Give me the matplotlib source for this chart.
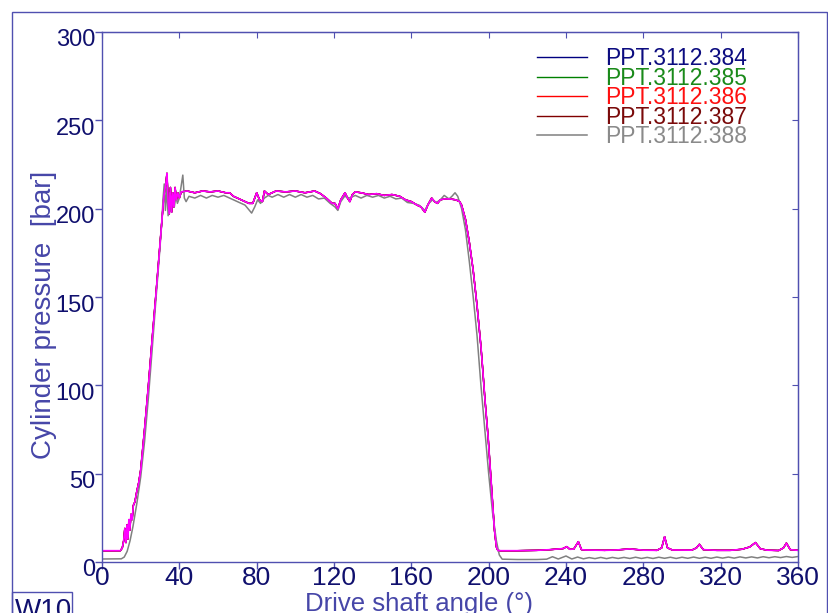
import matplotlib
matplotlib.use("Agg")
import matplotlib.pyplot as plt
import matplotlib.transforms as mtransforms
from matplotlib.patches import Rectangle

plt.rcParams['font.family'] = ['Liberation Sans', 'DejaVu Sans']

# series names and colours as in the legend
series_names = ["PPT.3112.384", "PPT.3112.385", "PPT.3112.386", "PPT.3112.387", "PPT.3112.388"]
series_colors = ["#000080", "#008000", "#ff0000", "#800000", "#808080"]
text_colors = ["#0c0c80", "#1a8a1a", "#ff1010", "#7a0a0a", "#8a8a8a"]

# curve of the first four runs (they lie on top of each other)
angle_a = [0, 9.5, 10.5, 11.2, 11.8, 12.4, 12.9, 13.4, 13.9, 14.4,
           15, 15.6, 16.2, 17, 18, 19, 20, 22, 24, 26,
           28, 30, 31, 32, 33, 33.6, 34.2, 34.8, 35.4, 36,
           36.6, 37.2, 37.8, 38.5, 39.2, 40, 41, 44, 48, 52,
           56, 60, 64, 66, 68, 70, 72, 74, 76, 78,
           80, 81.5, 83, 84, 86, 90, 95, 100, 105, 110,
           113, 116, 119, 120.5, 122, 123.5, 125.7, 127, 128.2, 129.5,
           131, 134, 138, 142, 146, 150, 154, 157, 160, 163,
           165, 167, 168.5, 170.5, 172, 173.5, 175, 177, 180, 183,
           185, 186, 188, 190, 192, 194, 196, 197, 198, 199.7,
           201, 202, 203, 204, 204.8, 206, 215, 225, 232, 236,
           238.5, 240.4, 242, 244, 246.4, 248, 250, 260, 266, 273,
           280, 287, 289.5, 291, 292.5, 295, 305, 307.5, 309, 311,
           318, 325, 331, 335, 338, 340.5, 344, 350, 352.5, 354,
           356, 360]
pressure_a = [6.4, 6.4, 8, 12, 19, 11, 21, 13, 24, 18,
              27, 24, 32, 34, 40, 45, 52, 75, 100, 127,
              153, 180, 194, 207, 214, 220, 204, 197, 212, 198,
              209, 201, 212, 205, 209, 206, 209.5, 210, 209, 210,
              209.5, 210, 209, 209, 207, 206, 205, 204, 203, 203,
              209, 205, 204, 210, 208, 210, 209.5, 210, 209, 210,
              208.5, 206, 203, 203, 200, 205, 209, 206, 204, 208,
              209.5, 209, 208, 208.5, 207.5, 208, 207, 205, 204, 202,
              201, 198, 202, 206, 204, 203, 205, 205.5, 205.5, 205,
              204, 202, 194, 181, 165, 145, 122, 108, 93, 71,
              50, 33, 18, 8.5, 6.5, 6.4, 6.4, 6.6, 7, 7.4,
              7.6, 8.7, 7.2, 7.3, 11.5, 7, 6.8, 6.6, 6.8, 7.4,
              6.7, 6.6, 8, 14.3, 8, 6.8, 6.7, 8, 10, 7,
              6.6, 6.6, 7.2, 8.5, 11, 7.5, 6.7, 6.5, 8, 10.7,
              7, 6.6]

# curve of run 388 (grey)
angle_b = [0, 10, 11.5, 13, 14.5, 16, 18, 20, 22, 24,
           26, 28, 30, 31, 31.6, 32.2, 32.8, 33.5, 34.2, 35,
           35.8, 36.6, 37.4, 38.2, 39, 40, 41, 41.8, 42.6, 43.5,
           45, 48, 51, 54, 57, 60, 63, 66, 68, 70,
           72, 74, 75.5, 77.4, 79, 80.5, 82, 84, 86, 88,
           91, 94, 97, 100, 103, 106, 109, 112, 115, 118,
           120.5, 122, 123.5, 125.5, 128, 131, 134, 137, 140, 143,
           146, 149, 152, 155, 158, 161, 164, 167, 169, 171,
           173, 175, 177, 179.5, 181, 182.6, 184, 186, 188, 190,
           192, 194, 196, 198, 200, 202, 204, 205.5, 207, 215,
           225, 230, 233, 236, 240, 243, 246, 249, 252, 255,
           258, 261, 264, 267, 270, 273, 276, 279, 282, 285,
           288, 291, 294, 297, 300, 303, 306, 309, 312, 315,
           318, 321, 324, 327, 330, 333, 336, 339, 342, 345,
           348, 351, 354, 357, 360]
pressure_b = [1.7, 1.8, 2.8, 6, 12, 20, 33, 48, 68, 93,
              121, 150, 178, 194, 206, 214, 199, 212, 196, 209,
              199, 208, 201, 207, 203, 206, 213, 219, 206, 204,
              207, 206, 207.5, 206, 207.5, 206.5, 207.5, 206, 205, 204,
              203, 202, 200, 197.5, 201, 205, 203, 206, 207.5, 206.5,
              208, 206.5, 208, 206.5, 208, 206.5, 207.5, 205.5, 206, 203,
              201, 199, 204, 207, 206, 207.5, 206, 207.5, 206.5, 207.5,
              206, 207, 205.5, 206, 203.5, 203, 202, 199, 203, 205,
              203.5, 205, 207.5, 205.5, 207, 209, 207, 200, 188, 170,
              150, 128, 100, 75, 50, 28, 12, 4, 1.6, 1.4,
              1.4, 1.6, 3.0, 1.7, 3.4, 1.7, 2.8, 1.8, 2.5, 1.9,
              2.6, 1.9, 2.6, 2.0, 2.6, 2.0, 2.7, 2.0, 2.6, 2.0,
              2.7, 2.1, 2.7, 2.0, 2.7, 2.1, 2.8, 2.1, 2.7, 2.1,
              2.8, 2.2, 2.8, 2.2, 2.9, 2.3, 2.9, 2.3, 3.0, 2.4,
              3.0, 2.5, 3.1, 2.6, 3.1]

x_ticks = [0, 40, 80, 120, 160, 200, 240, 280, 320, 360]
y_ticks = [0, 50, 100, 150, 200, 250, 300]

W, H = 829, 613
frame_col = "#5050b0"
tick_col = "#10106e"
label_col = "#4646a8"

fig = plt.figure(figsize=(W / 100, H / 100), dpi=100)
ax = fig.add_axes([102 / W, 1 - 562 / H, 696 / W, 530 / H])

# outer frame and the W10 tab
fig.add_artist(Rectangle((12 / W, -0.1), (827 - 12) / W, 1.1 - 12 / H,
                         transform=fig.transFigure, fill=False,
                         edgecolor=frame_col, lw=1.0))
fig.add_artist(Rectangle((12 / W, -0.1), 60 / W, 0.1 + 1 - 592 / H,
                         transform=fig.transFigure, fill=False,
                         edgecolor=frame_col, lw=1.0))
fig.text(15 / W, 1 - 598 / H, "W10", color=tick_col, fontsize=20,
         va="top", ha="left")

for name, col in zip(series_names[:4], series_colors[:4]):
    ax.plot(angle_a, pressure_a, color=col, lw=1.0, label=name)
ax.plot(angle_b, pressure_b, color=series_colors[4], lw=1.1, label=series_names[4])
# the stacked runs show up as magenta on screen
ax.plot(angle_a, pressure_a, color="#ff00ff", lw=1.2)

ax.set_xlim(0, 360)
ax.set_ylim(0, 300)
ax.set_xticks(x_ticks)
ax.set_yticks(y_ticks)

for sp in ax.spines.values():
    sp.set_color(frame_col)
    sp.set_linewidth(1.0)

ax.tick_params(axis="x", direction="out", length=5, width=1, color=frame_col,
               labelsize=19, labelcolor=tick_col, pad=-2)
ax.tick_params(axis="y", direction="out", length=5, width=1, color=frame_col,
               labelsize=17, labelcolor=tick_col, pad=0)

# inward ticks on top and right spines
top = ax.secondary_xaxis("top")
top.set_xticks(x_ticks)
top.tick_params(direction="in", length=4, color=frame_col, labeltop=False)
top.spines["top"].set_color(frame_col)
right = ax.secondary_yaxis("right")
right.set_yticks(y_ticks)
right.tick_params(direction="in", length=4, color=frame_col, labelright=False)
right.spines["right"].set_color(frame_col)

# y tick labels sit a bit below their ticks
shift = mtransforms.ScaledTranslation(0, -6 / 100, fig.dpi_scale_trans)
for lab in ax.get_yticklabels():
    lab.set_transform(lab.get_transform() + shift)

ax.set_xlabel("Drive shaft angle (°)", fontsize=18.5, color=label_col)
ax.xaxis.set_label_coords(0.4555, -0.057)
ax.set_ylabel("Cylinder pressure  [bar]", fontsize=20, color=label_col)
ax.yaxis.set_label_coords(-0.064, 0.466)

leg = ax.legend(loc="upper left", bbox_to_anchor=(537 / W, 1 - 47 / H),
                bbox_transform=fig.transFigure, frameon=False, fontsize=16.5,
                handlelength=2.2, handletextpad=0.78, labelspacing=-0.15,
                borderaxespad=0, borderpad=0)
for txt, col in zip(leg.get_texts(), text_colors):
    txt.set_color(col)

fig.savefig("out.png", dpi=100)
